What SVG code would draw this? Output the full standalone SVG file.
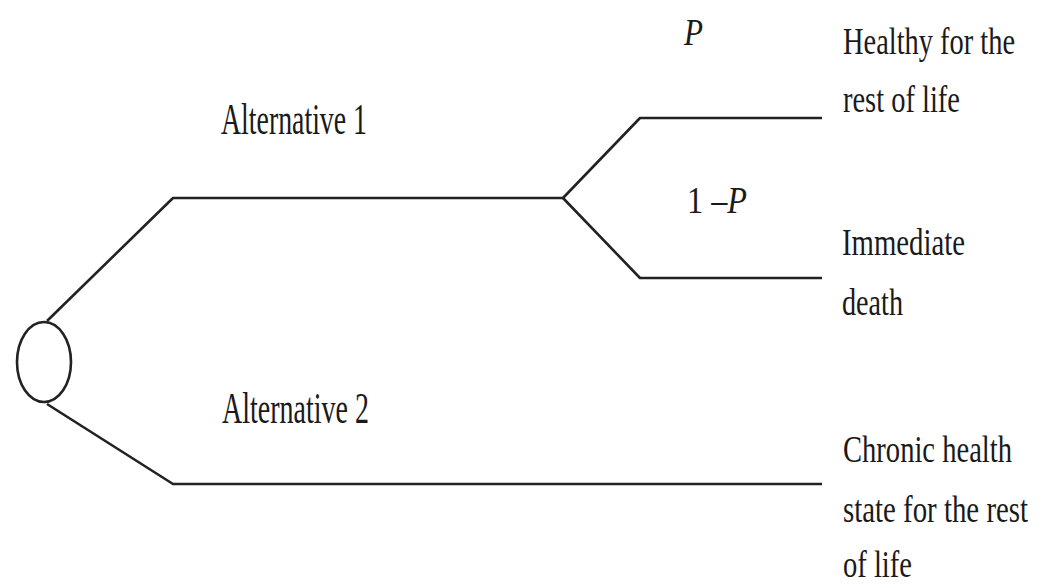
<svg xmlns="http://www.w3.org/2000/svg" width="1046" height="586" viewBox="0 0 1046 586">
<style>
.t{font-family:"Liberation Serif","Times New Roman",serif;fill:#1a1a1a;}
.lbl{font-size:37px;}
.alt{font-size:44px;}
.it{font-style:italic;}
.ln{fill:none;stroke:#222;stroke-width:2.6;stroke-linejoin:round;}
</style>
<rect width="1046" height="586" fill="#fff"/>
<g id="connectors">
<path class="ln" d="M47,321 L173,198 L563,198"/>
<path class="ln" d="M563,198 L640,118 L822,118"/>
<path class="ln" d="M563,198 L640,278 L822,278"/>
<path class="ln" d="M47,404 L173,484 L822,484"/>
</g>
<g id="chance-node">
<ellipse class="ln" cx="44" cy="362" rx="27" ry="40"/>
</g>
<g id="alt1-label">
<text class="t alt" transform="translate(221,134) scale(0.63,1)" textLength="231.7" lengthAdjust="spacingAndGlyphs">Alternative 1</text>
</g>
<g id="alt2-label">
<text class="t alt" transform="translate(222,423) scale(0.63,1)" textLength="233.3" lengthAdjust="spacingAndGlyphs">Alternative 2</text>
</g>
<g id="prob-p">
<text class="t lbl it" transform="translate(684,45) scale(0.8,1)" textLength="23.75" lengthAdjust="spacingAndGlyphs">P</text>
</g>
<g id="prob-1mp">
<text class="t lbl" transform="translate(687,213) scale(0.87,1)" textLength="69" lengthAdjust="spacingAndGlyphs">1 –<tspan class="it">P</tspan></text>
</g>
<g id="outcome-healthy">
<text class="t lbl" transform="translate(843,54) scale(0.77,1)" textLength="223.4" lengthAdjust="spacingAndGlyphs">Healthy for the</text>
<text class="t lbl" transform="translate(843,112) scale(0.77,1)" textLength="151.9" lengthAdjust="spacingAndGlyphs">rest of life</text>
</g>
<g id="outcome-death">
<text class="t lbl" transform="translate(842,255) scale(0.77,1)" textLength="159.7" lengthAdjust="spacingAndGlyphs">Immediate</text>
<text class="t lbl" transform="translate(842,315) scale(0.77,1)" textLength="79.2" lengthAdjust="spacingAndGlyphs">death</text>
</g>
<g id="outcome-chronic">
<text class="t lbl" transform="translate(843,462) scale(0.77,1)" textLength="219.5" lengthAdjust="spacingAndGlyphs">Chronic health</text>
<text class="t lbl" transform="translate(843,522) scale(0.77,1)" textLength="240.3" lengthAdjust="spacingAndGlyphs">state for the rest</text>
<text class="t lbl" transform="translate(843,577) scale(0.77,1)" textLength="89.6" lengthAdjust="spacingAndGlyphs">of life</text>
</g>
</svg>
